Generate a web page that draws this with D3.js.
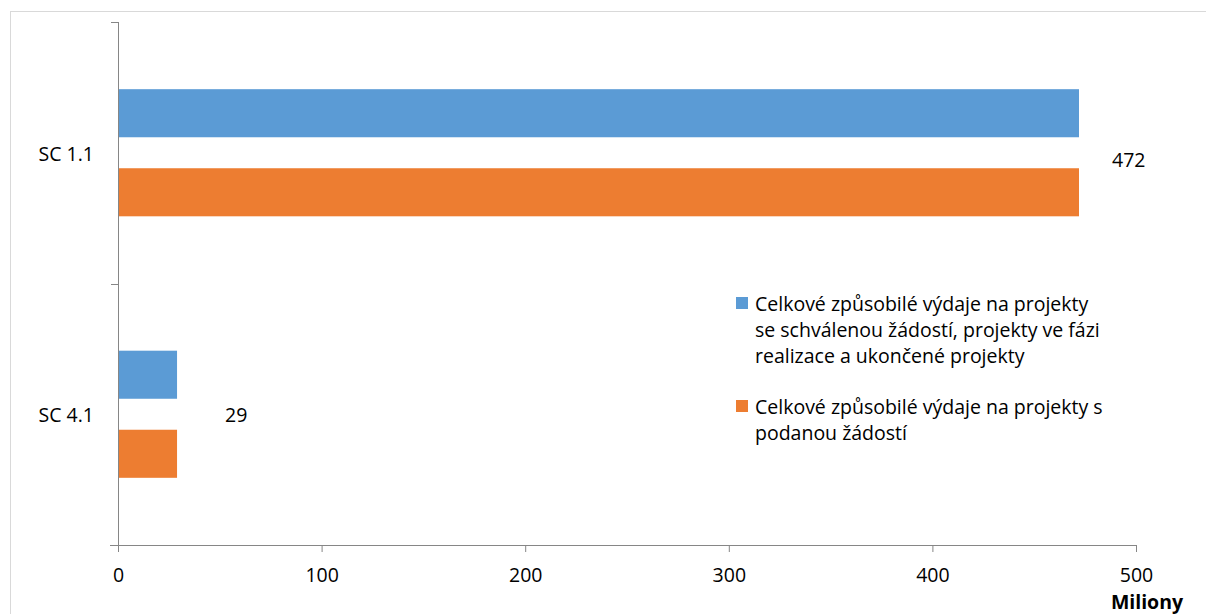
<!DOCTYPE html>
<html><head><meta charset="utf-8">
<script src="https://cdn.jsdelivr.net/npm/d3@7"></script>
<style>body{margin:0;background:#fff}svg{display:block}text{font-family:"Open Sans",sans-serif;fill:#000}</style>
</head><body><svg id="c" width="1206" height="614"></svg>
<script>
const categories = ["SC 1.1", "SC 4.1"];
const seriesNames = [
  "Celkové způsobilé výdaje na projekty se schválenou žádostí, projekty ve fázi realizace a ukončené projekty",
  "Celkové způsobilé výdaje na projekty s podanou žádostí"
];
const approved = [472, 29];
const submitted = [472, 29];
const dataLabels = ["472", "29"];
const xTicks = [0, 100, 200, 300, 400, 500];
const axisTitle = "Miliony";
const legendLines = [
  ["Celkové způsobilé výdaje na projekty", "se schválenou žádostí, projekty ve fázi", "realizace a ukončené projekty"],
  ["Celkové způsobilé výdaje na projekty s", "podanou žádostí"]
];
const colors = ["#5b9bd5", "#ed7d31"];

(function () {
const FS = 19.5;
const svg = d3.select("#c");
svg.append("rect").attr("x", 10.5).attr("y", 11.5).attr("width", 1220).attr("height", 640)
  .attr("fill", "none").attr("stroke", "#d9d9d9");

const pl = 118, pr = 1136, pt = 22, pb = 545;
const x = d3.scaleLinear().domain([0, 500]).range([pl, pr]);
const y = d3.scaleBand().domain(categories).range([pt, pb]);
const inner = d3.scaleBand().domain([0, 1]).range([0, y.bandwidth()]).paddingInner(0.392).paddingOuter(0.85);

const series = [approved, submitted];
series.forEach((vals, s) => {
  svg.append("g").selectAll("rect").data(categories).join("rect")
    .attr("x", x(0))
    .attr("y", (c) => y(c) + inner(s))
    .attr("width", (c, i) => x(vals[i]) - x(0))
    .attr("height", inner.bandwidth())
    .attr("fill", colors[s]);
});

const axisColor = "#868686";
const xa = svg.append("g").attr("transform", `translate(0,${pb})`)
  .call(d3.axisBottom(x).tickValues(xTicks).tickSize(7).tickPadding(16).tickFormat(d3.format("d")));
xa.select(".domain").attr("stroke", axisColor).attr("d", `M${pl - 8},0.5H${pr}`);
xa.selectAll(".tick line").attr("stroke", axisColor);
xa.selectAll("text").attr("font-size", FS).attr("font-family", "Open Sans");

const ya = svg.append("g").attr("transform", `translate(${pl},0)`)
  .call(d3.axisLeft(y).tickValues([]).tickSize(0));
ya.select(".domain").attr("stroke", axisColor).attr("d", `M0.5,${pt}V${pb}`);
const bounds = [pt, y(categories[1]), pb];
ya.selectAll(".bt").data(bounds).join("line").attr("class", "bt")
  .attr("x1", -7).attr("x2", 0.5).attr("y1", d => Math.round(d) + 0.5).attr("y2", d => Math.round(d) + 0.5)
  .attr("stroke", axisColor);

svg.append("g").selectAll("text").data(categories).join("text")
  .attr("x", 94).attr("y", c => y(c) + y.bandwidth() / 2 + 8)
  .attr("text-anchor", "end").attr("font-size", FS).text(c => c);

svg.append("g").selectAll("text").data(categories).join("text")
  .attr("x", (c, i) => i === 0 ? x(approved[i]) + 33 : x(approved[i]) + 48)
  .attr("y", (c, i) => y(c) + y.bandwidth() / 2 + (i === 0 ? 14.5 : 8))
  .attr("font-size", FS).text((c, i) => dataLabels[i]);

svg.append("text").attr("x", 1147).attr("y", 609).attr("text-anchor", "middle")
  .attr("font-size", FS).attr("font-weight", "bold").text(axisTitle);

const legY = [297, 400];
legendLines.forEach((lines, s) => {
  const g = svg.append("g");
  g.append("rect").attr("x", 736).attr("y", legY[s]).attr("width", 12).attr("height", 12).attr("fill", colors[s]);
  lines.forEach((ln, k) => {
    g.append("text").attr("x", 755).attr("y", legY[s] + 14 + k * 26).attr("font-size", FS).text(ln);
  });
});
})();
</script></body></html>
